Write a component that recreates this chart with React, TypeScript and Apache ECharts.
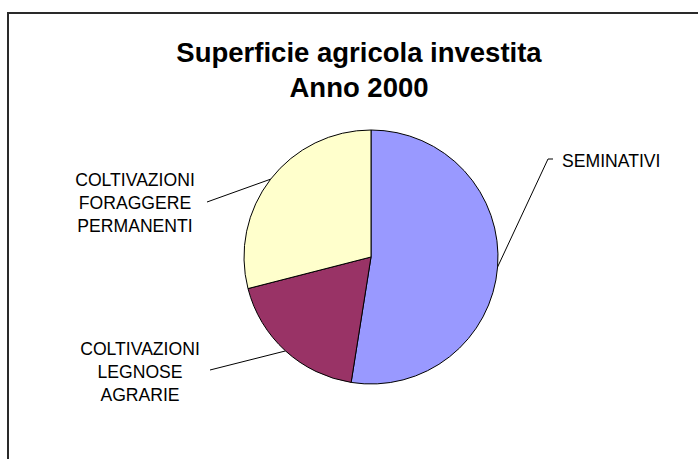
import React, { useEffect, useRef } from "react";
import * as echarts from "echarts";

const categories = [
  "SEMINATIVI",
  "COLTIVAZIONI LEGNOSE AGRARIE",
  "COLTIVAZIONI FORAGGERE PERMANENTI",
];
const values = [52.5, 18.5, 29.0];
const colors = ["#9999FF", "#993366", "#FFFFCC"];
const titleLines = ["Superficie agricola investita", "Anno 2000"];

const FONT = '"Liberation Sans", Arial, sans-serif';

export default function App() {
  const ref = useRef<HTMLDivElement>(null);
  useEffect(() => {
    if (!ref.current) return;
    const chart = echarts.init(ref.current, null, { renderer: "svg" });
    // label anchors (x, y, align) and bend point for the leader lines
    const labelPlacement: any[] = [
      { x: 562, y: 161, align: "left", bend: [548, 159], end: [553, 159] },
      { x: 140, y: 372, align: "center", bend: [210, 370], end: [210, 370] },
      { x: 135, y: 203, align: "center", bend: [207, 202], end: [207, 202] },
    ];
    chart.setOption({
      animation: false,
      backgroundColor: "#ffffff",
      graphic: [
        {
          type: "rect",
          shape: { x: 8, y: 13, width: 720, height: 480 },
          style: { fill: "none", stroke: "#2a2a2a", lineWidth: 2 },
          z: 0,
        },
        {
          type: "text",
          x: 359,
          y: 70,
          style: {
            text: titleLines.join("\n"),
            font: `bold 27.5px ${FONT}`,
            fontWeight: "bold",
            fontSize: 27.5,
            fontFamily: FONT,
            lineHeight: 35,
            textAlign: "center",
            textVerticalAlign: "middle",
            fill: "#000",
          },
        },
      ],
      series: [
        {
          type: "pie",
          center: [371, 257],
          radius: 127,
          startAngle: 90,
          clockwise: true,
          data: categories.map((name, i) => ({
            name,
            value: values[i],
            itemStyle: { color: colors[i] },
          })),
          itemStyle: { borderColor: "#000", borderWidth: 1 },
          emphasis: { disabled: true },
          label: {
            show: true,
            formatter: (p: any) => p.name.split(" ").join("\n"),
            color: "#000",
            fontFamily: FONT,
            fontSize: 17.6,
            lineHeight: 23,
            align: "center",
          },
          labelLine: {
            show: true,
            lineStyle: { color: "#000", width: 1 },
          },
          labelLayout: (params: any) => {
            const pl = labelPlacement[params.dataIndex];
            const start = params.labelLinePoints
              ? params.labelLinePoints[0]
              : pl.bend;
            return {
              x: pl.x,
              y: pl.y,
              align: pl.align,
              verticalAlign: "middle",
              labelLinePoints: [start, pl.bend, pl.end],
            };
          },
        },
      ],
    });
    return () => chart.dispose();
  }, []);
  return (
    <div
      ref={ref}
      style={{ position: "absolute", left: 0, top: 0, width: 698, height: 459 }}
    />
  );
}
